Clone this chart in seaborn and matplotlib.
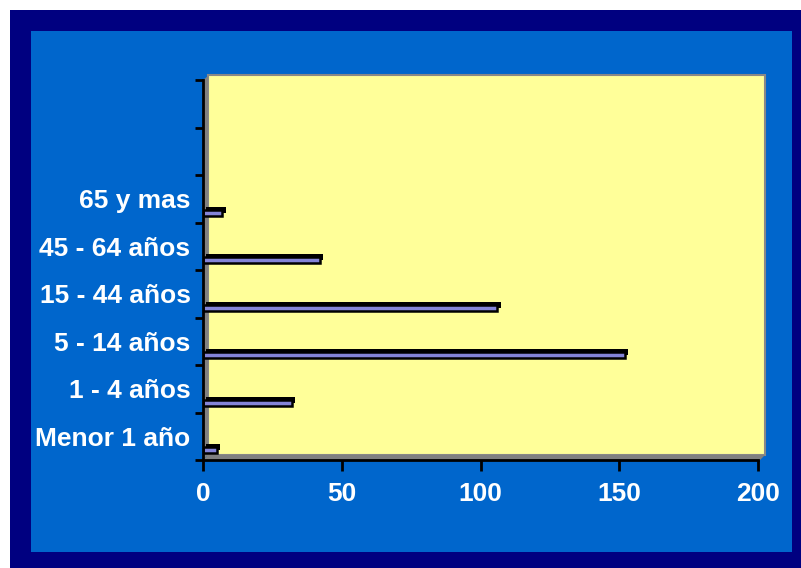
import numpy as np
import pandas as pd
import matplotlib
matplotlib.use("Agg")
import matplotlib.pyplot as plt
import matplotlib.patheffects as pe
from matplotlib.patches import Rectangle, Polygon
from matplotlib.transforms import ScaledTranslation
import seaborn as sns

# data, top to bottom as shown
grupos = ["65 y mas", "45 - 64 años", "15 - 44 años", "5 - 14 años", "1 - 4 años", "Menor 1 año"]
casos = [7, 42, 106, 152, 32, 5]
x_ticks = [0, 50, 100, 150, 200]

NAVY = "#000080"
BLUE = "#0066CC"
WALL = "#FFFF99"
BAR = "#8484D8"

sns.set_style("white")
plt.rcParams['font.family'] = ['Liberation Sans', 'DejaVu Sans']

W, H = 801, 568
fig = plt.figure(figsize=(W / 100, H / 100), dpi=100, facecolor="white")


def px(x, y):
    # pixel (top-left origin) -> figure fraction
    return (x / W, 1 - y / H)


# frame
fig.patches.append(Rectangle(px(10, H), (W - 10) / W, (H - 10) / H,
                             transform=fig.transFigure, facecolor=NAVY, edgecolor="none", zorder=0))
fig.patches.append(Rectangle(px(31, 552), (792 - 31) / W, (552 - 31) / H,
                             transform=fig.transFigure, facecolor=BLUE, edgecolor="none", zorder=0))

# 3D walls
ax_l, ax_r, ax_t, ax_b = 203, 758, 80, 460
d = 5
fig.patches.append(Rectangle(px(ax_l + d, ax_b - d), (ax_r + 7 - ax_l - d) / W, (ax_b - ax_t) / H,
                             transform=fig.transFigure, facecolor=WALL, edgecolor="#888888",
                             linewidth=1.5, zorder=0.5))
fig.patches.append(Polygon([px(ax_l, ax_b), px(ax_l, ax_t), px(ax_l + d, ax_t - 4), px(ax_l + d, ax_b - d)],
                           closed=True, transform=fig.transFigure, facecolor="#808080",
                           edgecolor="none", zorder=0.6))
fig.patches.append(Polygon([px(ax_l, ax_b), px(ax_l + d, ax_b - d), px(ax_r + 7, ax_b - d), px(ax_r + 2, ax_b)],
                           closed=True, transform=fig.transFigure, facecolor="#808080",
                           edgecolor="none", zorder=0.6))

ax = fig.add_axes([ax_l / W, 1 - ax_b / H, (ax_r - ax_l) / W, (ax_b - ax_t) / H])
ax.set_facecolor("none")
ax.set_zorder(2)

df = pd.DataFrame({"grupo": grupos, "casos": casos})
sns.barplot(data=df, x="casos", y="grupo", order=grupos, orient="h",
            color=BAR, saturation=1, width=0.12, ax=ax,
            edgecolor="black", linewidth=1.8)

# depth offset + 3D shadow on bars
shift = ScaledTranslation(0, -14 / 100, fig.dpi_scale_trans)
for p in ax.patches:
    p.set_transform(ax.transData + shift)
    p.set_path_effects([pe.SimplePatchShadow(offset=(2.5, 2.2), shadow_rgbFace="black", alpha=1),
                        pe.Normal()])

ax.set_xlim(0, 200)
ax.set_ylim(5.5, -2.5)
ax.set_xticks(x_ticks)
ax.set_xticklabels([str(t) for t in x_ticks])
ax.set_yticks(range(len(grupos)))
ax.set_yticklabels(grupos)
ax.set_yticks(np.arange(-2.5, 6, 1), minor=True)
ax.set_xlabel("")
ax.set_ylabel("")

for s in ["top", "right"]:
    ax.spines[s].set_visible(False)
for s in ["left", "bottom"]:
    ax.spines[s].set_color("black")
    ax.spines[s].set_linewidth(2)

ax.tick_params(axis="x", direction="out", length=8, width=2, color="black",
               labelcolor="white", labelsize=19, pad=8, bottom=True)
ax.tick_params(axis="y", which="major", length=0, labelcolor="white", labelsize=19, pad=9)
ax.tick_params(axis="y", which="minor", direction="out", length=6, width=2, color="black", left=True)
for t in ax.get_xticklabels() + ax.get_yticklabels():
    t.set_fontweight("bold")

fig.savefig("out.png", dpi=100, facecolor="white")
